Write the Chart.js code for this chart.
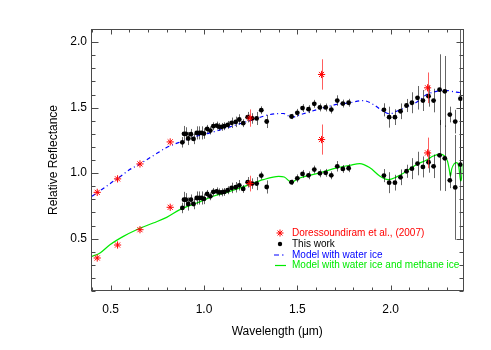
<!DOCTYPE html>
<html><head><meta charset="utf-8">
<script src="https://cdn.jsdelivr.net/npm/chart.js@4.4.1/dist/chart.umd.min.js"></script>
<style>html,body{margin:0;padding:0;background:#fff}#wrap{width:491px;height:350px}</style>
</head><body><div id="wrap"><canvas id="c" width="491" height="350"></canvas></div>
<script>
// ---- data ----
const workWavelength = [0.884,0.893,0.903,0.916,0.930,0.944,0.961,0.975,0.987,1.000,1.017,1.034,1.050,1.068,1.082,1.095,1.109,1.127,1.148,1.170,1.189,1.210,1.234,1.258,1.282,1.307,1.336,
  1.469,1.500,1.528,1.560,1.591,1.621,1.652,1.682,1.714,1.744,1.775,
  1.964,1.992,2.023,2.053,2.085,2.114,2.144,2.173,2.203,2.230,2.262,2.290,2.317,2.346,2.374];
const workReflUpper = [1.235,1.300,1.300,1.264,1.297,1.261,1.307,1.307,1.307,1.302,1.338,1.325,1.358,1.363,1.353,1.353,1.358,1.368,1.384,1.391,1.409,1.381,1.427,1.417,1.417,1.480,1.394,
  1.432,1.460,1.496,1.488,1.529,1.501,1.501,1.485,1.554,1.531,1.537,
  1.483,1.427,1.427,1.472,1.516,1.537,1.575,1.554,1.587,1.554,1.637,1.624,1.447,1.393,1.568];
const workErrUpper = [0.04,0.06,0.05,0.05,0.04,0.04,0.05,0.05,0.05,0.04,0.03,0.03,0.03,0.03,0.03,0.03,0.03,0.03,0.04,0.04,0.04,0.03,0.04,0.04,0.05,0.03,0.05,
  0.02,0.03,0.03,0.03,0.03,0.03,0.03,0.03,0.04,0.03,0.03,
  0.05,0.08,0.06,0.06,0.05,0.08,0.09,0.08,0.08,0.09,0.27,0.27,0.06,0.09,0.57];
const workReflLower = [0.734,0.797,0.797,0.764,0.797,0.764,0.810,0.810,0.810,0.803,0.841,0.823,0.856,0.861,0.853,0.853,0.856,0.869,0.887,0.892,0.907,0.879,0.930,0.920,0.920,0.981,0.894,
  0.930,0.960,0.994,0.983,1.027,0.998,1.002,0.983,1.052,1.032,1.037,
  0.981,0.927,0.927,0.968,1.014,1.034,1.073,1.047,1.083,1.052,1.136,1.113,0.945,0.891,1.065];
const workErrLower = [0.04,0.06,0.05,0.05,0.04,0.04,0.05,0.05,0.05,0.04,0.03,0.03,0.03,0.03,0.03,0.03,0.03,0.03,0.04,0.04,0.04,0.03,0.04,0.04,0.05,0.03,0.05,
  0.02,0.03,0.03,0.03,0.03,0.03,0.03,0.03,0.04,0.03,0.03,
  0.05,0.08,0.06,0.06,0.05,0.08,0.09,0.08,0.08,0.09,0.27,0.25,0.06,0.40,0.57];

const dorWavelength = [0.428,0.537,0.657,0.819,1.246,1.630,2.198];
const dorReflUpper = [0.853,0.956,1.070,1.238,1.420,1.753,1.651];
const dorErrUpper  = [0,0,0,0,0.066,0.116,0.117];
const dorReflLower = [0.352,0.451,0.568,0.739,0.920,1.256,1.154];
const dorErrLower  = [0,0,0,0,0.060,0.115,0.117];

const waterModelWavelength = [0.400,0.430,0.470,0.514,0.550,0.600,0.657,0.730,0.800,0.880,0.950,1.032,1.139,1.264,1.353,1.425,1.469,1.532,1.621,1.711,1.782,1.853,1.907,1.960,1.996,2.032,2.085,2.139,2.193,2.228,2.282,2.353,2.385];
const waterModelRefl       = [0.823,0.852,0.892,0.937,0.972,1.025,1.070,1.135,1.195,1.242,1.278,1.307,1.353,1.409,1.447,1.455,1.427,1.453,1.491,1.524,1.537,1.554,1.524,1.472,1.453,1.472,1.506,1.541,1.600,1.618,1.633,1.618,1.613];

const methaneModelWavelength = [0.400,0.443,0.496,0.568,0.639,0.728,0.800,0.871,0.961,1.050,1.139,1.228,1.317,1.400,1.430,1.469,1.500,1.532,1.621,1.711,1.782,1.835,1.889,1.943,1.987,2.032,2.085,2.139,2.193,2.228,2.262,2.290,2.305,2.315,2.320,2.327,2.340,2.352,2.365,2.375,2.380,2.385];
const methaneModelRefl       = [0.364,0.390,0.453,0.517,0.568,0.619,0.662,0.721,0.772,0.823,0.861,0.904,0.950,0.975,0.970,0.930,0.955,0.971,1.002,1.040,1.060,1.073,1.040,0.976,0.950,0.971,1.014,1.065,1.100,1.130,1.145,1.130,1.090,1.020,0.976,1.030,1.070,1.080,1.050,0.940,0.960,1.070];

const xTickValues = [0.5, 1.0, 1.5, 2.0];
const yTickValues = [0.5, 1.0, 1.5, 2.0];
const legendLabels = ['Doressoundiram et al., (2007)', 'This work', 'Model with water ice', 'Model with water ice and methane ice'];

// ---- styling ----
const FONT = "'Liberation Sans', Arial, Helvetica, sans-serif";
const RED = 'rgb(255,0,0)', BLUE = 'rgb(0,0,255)', GREEN = 'rgb(0,235,0)';

function pts(xs, ys){ return xs.map((x,i)=>({x:x, y:ys[i]})); }

const errorBarPlugin = {
  id: 'errorBars',
  beforeDatasetDraw(chart, args) {
    const ds = chart.data.datasets[args.index];
    if (!ds.errorBars) return;
    const {ctx, chartArea:a, scales:{x, y}} = chart;
    ctx.save();
    ctx.beginPath(); ctx.rect(a.left, a.top, a.right-a.left, a.bottom-a.top); ctx.clip();
    ctx.strokeStyle = ds.errorBarColor; ctx.lineWidth = 1;
    ds.data.forEach((p,i)=>{
      const e = ds.errorBars[i]; if (!e) return;
      const px = Math.round(x.getPixelForValue(p.x)) + 0.5;
      ctx.beginPath();
      ctx.moveTo(px, y.getPixelForValue(p.y - e));
      ctx.lineTo(px, y.getPixelForValue(p.y + e));
      ctx.stroke();
    });
    ctx.restore();
  }
};

const frameTicksPlugin = {
  id: 'frameTicks',
  afterDraw(chart) {
    const {ctx, chartArea:a, scales:{x, y}} = chart;
    const L = Math.round(a.left) - 0.5, R = Math.round(a.right) + 0.5, T = Math.round(a.top) + 0.5, B = Math.round(a.bottom) - 0.5;
    ctx.save();
    ctx.strokeStyle = '#4a4a4a'; ctx.lineWidth = 1;
    ctx.strokeRect(L, T, R-L, B-T);
    ctx.beginPath();
    for (let k = 4; k <= 23; k++) {
      const v = k/10, major = (k % 5 === 0), len = major ? 5 : 3;
      const px = Math.round(x.getPixelForValue(v)) + 0.5;
      ctx.moveTo(px, B); ctx.lineTo(px, B - len);
      ctx.moveTo(px, T); ctx.lineTo(px, T + len);
    }
    for (let k = 1; k <= 21; k++) {
      const v = k/10, major = (k % 5 === 0), len = major ? 7 : 4;
      const py = Math.round(y.getPixelForValue(v)) + 0.5;
      ctx.moveTo(L, py); ctx.lineTo(L + len, py);
      ctx.moveTo(R, py); ctx.lineTo(R - len, py);
    }
    ctx.stroke();
    ctx.restore();
  }
};

const legendPlugin = {
  id: 'customLegend',
  afterDraw(chart) {
    const ctx = chart.ctx;
    const sx = 280, tx = 292, rows = [233, 244, 255, 265.5];
    ctx.save();
    ctx.font = '10px ' + FONT; ctx.textBaseline = 'middle'; ctx.textAlign = 'left';
    ctx.strokeStyle = RED; ctx.lineWidth = 1;
    ctx.beginPath();
    for (let k = 0; k < 4; k++) {
      const ang = k * Math.PI / 4, r = 3.5;
      ctx.moveTo(sx - r*Math.cos(ang), rows[0] - r*Math.sin(ang));
      ctx.lineTo(sx + r*Math.cos(ang), rows[0] + r*Math.sin(ang));
    }
    ctx.stroke();
    ctx.fillStyle = RED; ctx.fillText(legendLabels[0], tx, rows[0]);
    ctx.fillStyle = '#000';
    ctx.beginPath(); ctx.arc(sx, rows[1], 2.2, 0, Math.PI*2); ctx.fill();
    ctx.fillText(legendLabels[1], tx, rows[1]);
    ctx.strokeStyle = BLUE; ctx.lineWidth = 1.2;
    ctx.beginPath(); ctx.moveTo(274, rows[2]); ctx.lineTo(279, rows[2]); ctx.moveTo(282, rows[2]); ctx.lineTo(283.5, rows[2]); ctx.stroke();
    ctx.fillStyle = BLUE; ctx.fillText(legendLabels[2], tx, rows[2]);
    ctx.strokeStyle = GREEN;
    ctx.beginPath(); ctx.moveTo(275, rows[3]); ctx.lineTo(286, rows[3]); ctx.stroke();
    ctx.fillStyle = GREEN; ctx.fillText(legendLabels[3], tx, rows[3]);
    ctx.restore();
  }
};

const tickFont = {family: FONT, size: 12};

new Chart(document.getElementById('c'), {
  type: 'scatter',
  data: {
    datasets: [
      {label: legendLabels[0], data: pts(dorWavelength, dorReflUpper), errorBars: dorErrUpper, errorBarColor: 'rgba(255,40,40,0.75)',
       pointStyle: 'star', pointRadius: 3.6, borderColor: RED, backgroundColor: RED, borderWidth: 1},
      {label: legendLabels[0], data: pts(dorWavelength, dorReflLower), errorBars: dorErrLower, errorBarColor: 'rgba(255,40,40,0.75)',
       pointStyle: 'star', pointRadius: 3.6, borderColor: RED, backgroundColor: RED, borderWidth: 1},
      {label: legendLabels[1], data: pts(workWavelength, workReflUpper), errorBars: workErrUpper, errorBarColor: 'rgba(0,0,0,0.6)',
       pointStyle: 'circle', pointRadius: 2.4, backgroundColor: '#000', borderWidth: 0},
      {label: legendLabels[1], data: pts(workWavelength, workReflLower), errorBars: workErrLower, errorBarColor: 'rgba(0,0,0,0.6)',
       pointStyle: 'circle', pointRadius: 2.4, backgroundColor: '#000', borderWidth: 0},
      {type: 'line', label: legendLabels[2], data: pts(waterModelWavelength, waterModelRefl), showLine: true, fill: false,
       borderColor: BLUE, borderWidth: 1.2, borderDash: [4,3,1,3], pointRadius: 0, cubicInterpolationMode: 'monotone'},
      {type: 'line', label: legendLabels[3], data: pts(methaneModelWavelength, methaneModelRefl), showLine: true, fill: false,
       borderColor: GREEN, borderWidth: 1.2, pointRadius: 0, cubicInterpolationMode: 'monotone'}
    ]
  },
  options: {
    responsive: false, animation: false, devicePixelRatio: 1,
    layout: {padding: {left: 0, top: 29, right: 28.5, bottom: 0}},
    plugins: {legend: {display: false}, tooltip: {enabled: false}},
    scales: {
      x: {type: 'linear', min: 0.4, max: 2.385,
          grid: {display: false, drawTicks: false, tickLength: 0}, border: {display: false},
          afterBuildTicks: s => { s.ticks = xTickValues.map(v => ({value: v})); },
          ticks: {color: '#000', font: tickFont, padding: 11, maxRotation: 0, autoSkip: false, callback: v => Number(v).toFixed(1)},
          title: {display: true, text: 'Wavelength (μm)', color: '#000', font: tickFont, padding: {top: 0, bottom: 11}},
          afterFit: s => { s.height = 59; }},
      y: {type: 'linear', min: 0.1, max: 2.1,
          grid: {display: false, drawTicks: false, tickLength: 0}, border: {display: false},
          afterBuildTicks: s => { s.ticks = yTickValues.map(v => ({value: v})); },
          ticks: {color: '#000', font: tickFont, padding: 5, autoSkip: false, callback: v => Number(v).toFixed(1)},
          title: {display: true, text: 'Relative Reflectance', color: '#000', font: tickFont, padding: {top: 46, bottom: 0}},
          afterFit: s => { s.width = 92; }}
    }
  },
  plugins: [errorBarPlugin, frameTicksPlugin, legendPlugin]
});
</script>
</body></html>
